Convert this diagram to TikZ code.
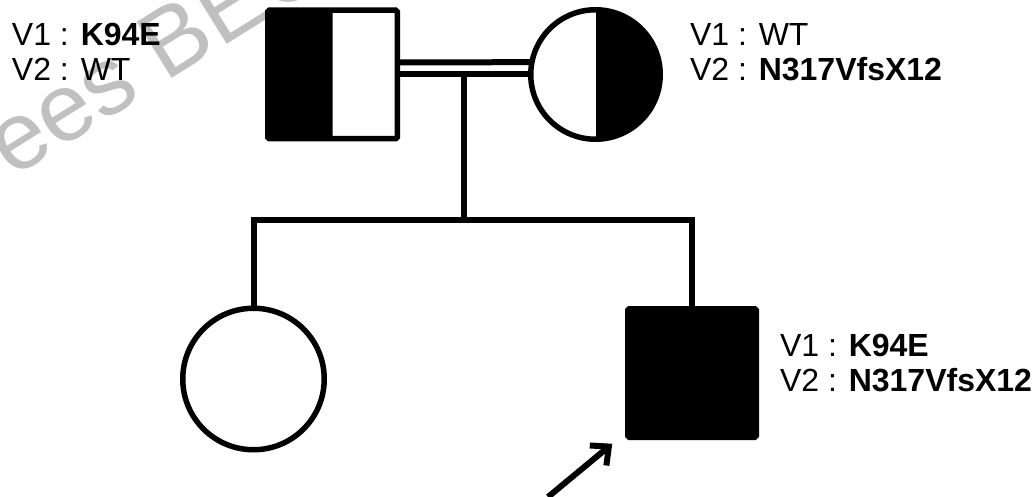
\documentclass[tikz,border=0pt]{standalone}
\usepackage{fontspec}
\setmainfont{Liberation Sans}
\usetikzlibrary{arrows.meta,calc}

\definecolor{wmgray}{RGB}{192,192,192}

\begin{document}
\begin{tikzpicture}[x=1pt,y=-1pt,
  every node/.style={inner sep=0pt, outer sep=0pt},
  shapeline/.style={draw=black, line width=5.5pt},
  link/.style={draw=black, line width=6pt},
  malebox/.style={shapeline, rectangle, minimum width=129.5pt,
    minimum height=128.5pt, rounded corners=1.5pt},
  femaledisc/.style={shapeline, circle, minimum size=#1},
  lefthalf/.style={path picture={\fill[black] (path picture bounding box.south west)
    rectangle (path picture bounding box.north);}},
  righthalf/.style={path picture={\fill[black] (path picture bounding box.north)
    rectangle (path picture bounding box.south east);}},
  gtype/.style={font=\fontsize{32}{35}\selectfont, align=left, anchor=north west},
  probandarrow/.style={link, -{Straight Barb[length=14pt, width=26pt]}}
]
\useasboundingbox (0,0) rectangle (1033,497);

% faint watermark behind everything
\begin{scope}
  \clip (0,0) rectangle (1033,497);
  \node[rotate=32, anchor=base west, text=wmgray,
        font=\fontsize{96}{96}\selectfont] (wm) at (12,179) {ees BEC};
\end{scope}

% parents
\node[malebox, lefthalf] (father) at (332.5,74.5) {};
\node[femaledisc=129.5pt, righthalf] (mother) at (595.5,74.5) {};

% children
\node[femaledisc=141.5pt] (daughter) at (253.5,379) {};
\node[malebox, minimum width=128.5pt, fill=black] (son) at (692,373) {};

% consanguineous marriage (double line) and line of descent
\draw[link] (father.east) -- (mother.west);
\draw[link] ([yshift=12pt]father.east) -- (mother.169.3);
\coordinate (m) at ($(father.east)!0.5!(mother.west)$);
\coordinate (sib) at (m |- 0,220);
\draw[link] (m) -- (sib);
\draw[link] (daughter.north) -- (daughter.north |- sib) -- (son.north |- sib) -- (son.north);

% proband arrow
\coordinate (ptail) at (548,497);
\draw[probandarrow] (ptail) -- ([xshift=-15.5pt,yshift=-6.5pt]son.south west);

% genotypes
\node[gtype] (gfather) at (12,23) {V1 : \textbf{K94E}\\V2 : WT};
\node[gtype] (gmother) at (690,23) {V1 : WT\\V2 : \textbf{N317VfsX12}};
\node[gtype] (gson) at (780,334) {V1 : \textbf{K94E}\\V2 : \textbf{N317VfsX12}};
\end{tikzpicture}
\end{document}
